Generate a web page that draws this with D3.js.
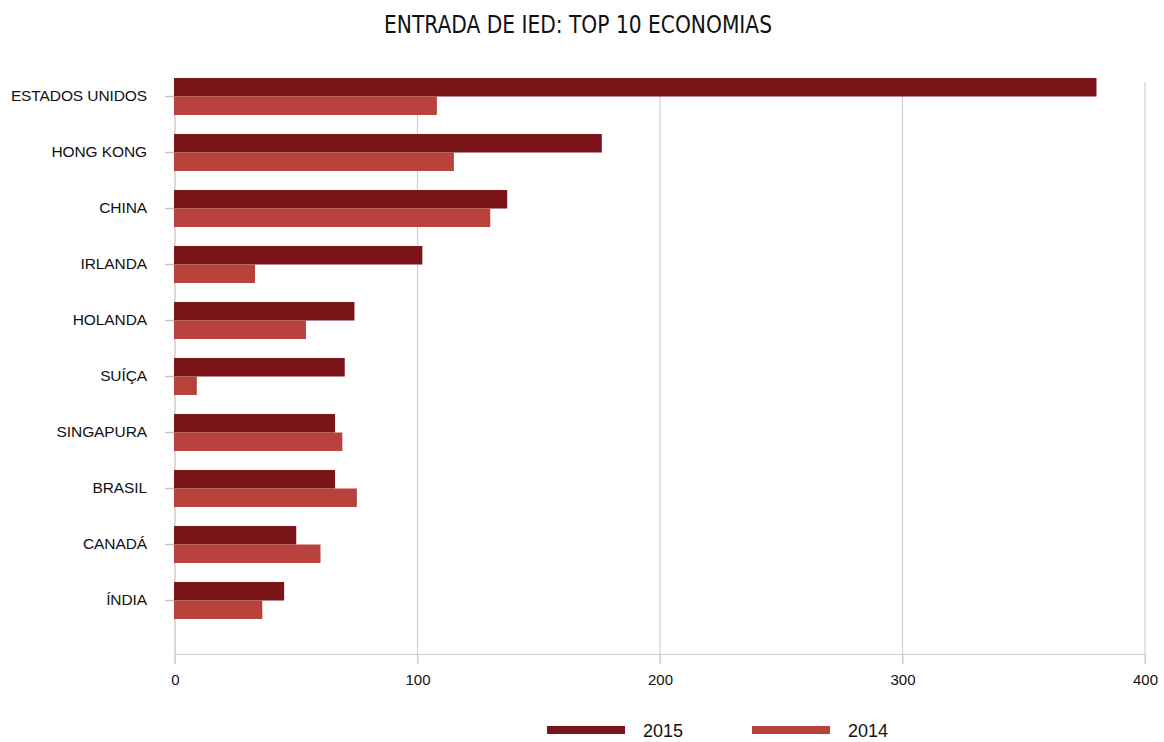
<!DOCTYPE html>
<html>
<head>
<meta charset="utf-8">
<script src="https://cdn.jsdelivr.net/npm/d3@7"></script>
<style>
  html, body { margin: 0; padding: 0; background: #fff; }
  svg { display: block; }
</style>
</head>
<body>
<svg id="chart" width="1164" height="742"></svg>
<script>
// FDI inflows, billions of USD
const categories = ["ESTADOS UNIDOS", "HONG KONG", "CHINA", "IRLANDA", "HOLANDA", "SUÍÇA", "SINGAPURA", "BRASIL", "CANADÁ", "ÍNDIA"];
const values2015 = [380, 176, 137, 102, 74, 70, 66, 66, 50, 45];
const values2014 = [108, 115, 130, 33, 54, 9, 69, 75, 60, 36];
const seriesNames = ["2015", "2014"];
const xTicks = [0, 100, 200, 300, 400];
const title = "ENTRADA DE IED: TOP 10 ECONOMIAS";

const colors = { "2015": "#7b1418", "2014": "#b8423b" };
const series = { "2015": values2015, "2014": values2014 };

const svg = d3.select("#chart");
const plotLeft = 175, plotRight = 1145, plotTop = 68.5, plotBottom = 628.5, axisY = 654;

const x = d3.scaleLinear().domain([0, 400]).range([plotLeft, plotRight]);
const y = d3.scaleBand().domain(categories).range([plotTop, plotBottom]).paddingInner(0.34).paddingOuter(0.17);
const ySub = d3.scaleBand().domain(seriesNames).range([0, y.bandwidth()]);

// Title
svg.append("text")
  .attr("x", 578).attr("y", 33)
  .attr("text-anchor", "middle")
  .attr("font-family", "'Liberation Sans Narrow', 'DejaVu Sans Condensed', sans-serif")
  .attr("font-stretch", "condensed")
  .attr("font-size", 25)
  .attr("fill", "#111")
  .attr("textLength", 388)
  .attr("lengthAdjust", "spacingAndGlyphs")
  .text(title);

// Vertical grid lines
svg.append("g").selectAll("line")
  .data(xTicks.slice(1))
  .join("line")
  .attr("x1", d => x(d)).attr("x2", d => x(d))
  .attr("y1", 82).attr("y2", axisY + 10)
  .attr("stroke", "#d0d0d0").attr("stroke-width", 1.2);

// Left axis line
svg.append("line")
  .attr("x1", x(0)).attr("x2", x(0))
  .attr("y1", 82).attr("y2", axisY + 10)
  .attr("stroke", "#dadada").attr("stroke-width", 2);

// Bottom axis
const xAxis = d3.axisBottom(x).tickValues(xTicks).tickSize(10).tickPadding(10).tickSizeOuter(0);
const gx = svg.append("g").attr("transform", `translate(0,${axisY})`).call(xAxis);
gx.select(".domain").attr("stroke", "#cfcfcf").attr("stroke-width", 1.2);
gx.selectAll(".tick line").attr("stroke", "#cfcfcf").attr("stroke-width", 1.2);
gx.selectAll(".tick text")
  .attr("font-family", "'Liberation Sans', Arial, sans-serif")
  .attr("font-size", 15).attr("fill", "#111");

// Category axis
const yAxis = d3.axisLeft(y).tickSize(10).tickPadding(18);
const gy = svg.append("g").attr("transform", `translate(${x(0)},0)`).call(yAxis);
gy.select(".domain").remove();
gy.selectAll(".tick line").attr("stroke", "#c4c4c4").attr("stroke-width", 1.5);
gy.selectAll(".tick text")
  .attr("font-family", "'Liberation Sans', Arial, sans-serif")
  .attr("font-size", 15.5).attr("fill", "#111")
  .attr("letter-spacing", -0.1);

// Bars
const groups = svg.append("g").selectAll("g")
  .data(categories)
  .join("g")
  .attr("transform", d => `translate(0,${y(d)})`);

groups.selectAll("rect")
  .data((d, i) => seriesNames.map(s => ({ s, v: series[s][i] })))
  .join("rect")
  .attr("x", x(0) - 1)
  .attr("y", d => ySub(d.s))
  .attr("width", d => x(d.v) - x(0) + 1)
  .attr("height", ySub.bandwidth())
  .attr("fill", d => colors[d.s]);

// Legend
const legend = svg.append("g").selectAll("g")
  .data(seriesNames)
  .join("g")
  .attr("transform", (d, i) => `translate(${547 + i * 205},0)`);
legend.append("rect")
  .attr("x", 0).attr("y", 726)
  .attr("width", 78).attr("height", 8)
  .attr("fill", d => colors[d]);
legend.append("text")
  .attr("x", 96).attr("y", 737)
  .attr("font-family", "'Liberation Sans', Arial, sans-serif")
  .attr("font-size", 18).attr("fill", "#111")
  .text(d => d);
</script>
</body>
</html>
